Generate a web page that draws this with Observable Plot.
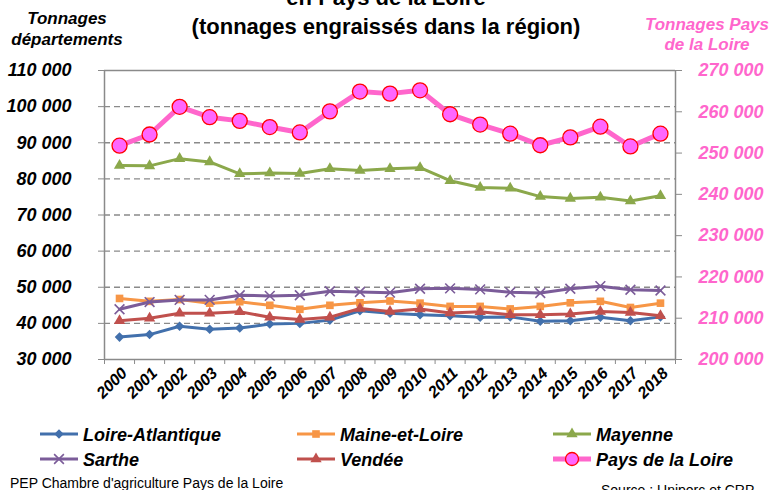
<!DOCTYPE html>
<html>
<head>
<meta charset="utf-8">
<script src="https://cdn.jsdelivr.net/npm/d3@7"></script>
<script src="https://cdn.jsdelivr.net/npm/@observablehq/plot@0.6"></script>
<style>
  html, body { margin: 0; padding: 0; background: #fff; }
  #wrap { position: relative; width: 770px; height: 490px; overflow: hidden; font-family: "Liberation Sans", Arial, sans-serif; }
  #chart { position: absolute; left: 0; top: 0; }
  #overlay { position: absolute; left: 0; top: 0; pointer-events: none; }
</style>
</head>
<body>
<div id="wrap">
  <div id="chart"></div>
  <svg id="overlay" width="770" height="490"></svg>
</div>
<script>
// ---- data ----
const years = [2000, 2001, 2002, 2003, 2004, 2005, 2006, 2007, 2008, 2009, 2010, 2011, 2012, 2013, 2014, 2015, 2016, 2017, 2018];
const loireAtlantique = [36200, 36900, 39200, 38400, 38700, 39800, 40000, 40900, 43500, 42800, 42400, 42100, 41700, 41800, 40600, 40700, 41700, 40700, 41800];
const maineEtLoire = [46900, 46100, 46600, 45600, 46000, 45000, 43900, 45000, 45700, 46200, 45600, 44700, 44700, 44000, 44700, 45700, 46100, 44400, 45600];
const mayenne = [83700, 83600, 85600, 84700, 81400, 81600, 81500, 82800, 82300, 82800, 83100, 79500, 77600, 77400, 75100, 74600, 74900, 73900, 75300];
const sarthe = [43900, 45900, 46500, 46500, 47800, 47600, 47800, 48900, 48700, 48500, 49600, 49700, 49400, 48600, 48400, 49600, 50300, 49300, 49100];
const vendee = [40700, 41400, 42800, 42800, 43200, 41700, 41100, 41700, 44100, 43300, 44000, 42900, 43200, 42400, 42400, 42600, 43300, 43000, 42100];
const paysDeLaLoire = [251800, 254500, 261200, 258700, 257800, 256300, 255000, 260100, 264900, 264400, 265200, 259400, 256900, 254700, 251900, 253800, 256400, 251600, 254700];

const leftTicks = [30000, 40000, 50000, 60000, 70000, 80000, 90000, 100000, 110000];
const rightTicks = [200000, 210000, 220000, 230000, 240000, 250000, 260000, 270000];

const titleLines = ["en Pays de la Loire", "(tonnages engraissés dans la région)"];
const leftTitle = ["Tonnages", "départements"];
const rightTitle = ["Tonnages Pays", "de la Loire"];
const footerLeft = "PEP Chambre d'agriculture Pays de la Loire";
const footerRight = "Source :  Uniporc et CRP";

const series = [
  {name: "Loire-Atlantique", values: loireAtlantique, color: "#4270AC", symbol: "diamond2", r: 4.3, width: 3},
  {name: "Maine-et-Loire", values: maineEtLoire, color: "#F79646", symbol: "square", r: 4.3, width: 3},
  {name: "Mayenne", values: mayenne, color: "#8BA84B", symbol: "triangle", r: 4.2, width: 3},
  {name: "Sarthe", values: sarthe, color: "#7B5C99", symbol: "times", r: 4.5, width: 3},
  {name: "Vendée", values: vendee, color: "#C0504D", symbol: "triangle", r: 4.2, width: 3}
];
const pink = "#FF66CC";

// ---- dual-axis mapping (right axis 200 000–270 000 onto left 30 000–110 000) ----
const L0 = 30000, L1 = 110000, R0 = 200000, R1 = 270000;
const toLeft = v => L0 + (v - R0) * (L1 - L0) / (R1 - R0);
const fromLeft = y => R0 + (y - L0) * (R1 - R0) / (L1 - L0);
const fmt = v => d3.format(",")(Math.round(v / 1000) * 1000).replace(/,/g, " ");

const boundaries = [years[0] - 0.5, ...years.map(y => y + 0.5)];
const gridTicks = leftTicks.filter(t => t > L0 && t < L1);

const marks = [
  Plot.gridY(gridTicks, {stroke: "#8a8a8a", strokeOpacity: 1, strokeWidth: 1.3, strokeDasharray: "6,4"}),
  Plot.ruleY([L1], {stroke: "#8a8a8a", strokeWidth: 1.3}),
  Plot.ruleY([L0], {stroke: "#8a8a8a", strokeWidth: 1.5}),
  Plot.ruleX([boundaries[0]], {stroke: "#8a8a8a", strokeWidth: 1.5}),
  Plot.ruleX([boundaries[boundaries.length - 1]], {stroke: "#8a8a8a", strokeWidth: 1.5}),
  Plot.axisY(leftTicks, {anchor: "left", tickSize: 6, tickPadding: 27, stroke: "#8a8a8a", fill: "#000",
    tickFormat: fmt, fontSize: 18, fontWeight: "bold", fontStyle: "italic", label: null}),
  Plot.axisY(rightTicks.map(toLeft), {anchor: "right", tickSize: 6, tickPadding: 17, stroke: "#8a8a8a", fill: pink,
    tickFormat: d => fmt(fromLeft(d)), fontSize: 18, fontWeight: "bold", fontStyle: "italic", label: null}),
  Plot.axisX(boundaries, {tickSize: 5, stroke: "#8a8a8a", tickFormat: () => "", label: null}),
  Plot.axisX(years, {tickSize: 0, tickPadding: 11, tickRotate: -45, dx: 5, tickFormat: d => String(d),
    fontSize: 16, fontWeight: "bold", fontStyle: "italic", fill: "#000", label: null})
];

for (const s of series) {
  const rows = years.map((yr, i) => ({year: yr, value: s.values[i]}));
  marks.push(Plot.line(rows, {x: "year", y: "value", stroke: s.color, strokeWidth: s.width}));
  if (s.symbol === "times") {
    marks.push(Plot.dot(rows, {x: "year", y: "value", symbol: "times", r: s.r, stroke: s.color, strokeWidth: 1.6}));
  } else {
    marks.push(Plot.dot(rows, {x: "year", y: "value", symbol: s.symbol, r: s.r, fill: s.color, stroke: "none"}));
  }
}
const pinkRows = years.map((yr, i) => ({year: yr, value: toLeft(paysDeLaLoire[i])}));
marks.push(Plot.line(pinkRows, {x: "year", y: "value", stroke: pink, strokeWidth: 5}));
marks.push(Plot.dot(pinkRows, {x: "year", y: "value", r: 7.5, fill: "#FF66FF", stroke: "#FF0000", strokeWidth: 1.3}));

const chart = Plot.plot({
  width: 770,
  height: 410,
  marginLeft: 104,
  marginRight: 95,
  marginTop: 70,
  marginBottom: 51,
  x: {type: "linear", domain: [boundaries[0], boundaries[boundaries.length - 1]]},
  y: {type: "linear", domain: [L0, L1]},
  style: {fontFamily: "Liberation Sans, Arial, sans-serif", background: "transparent", overflow: "visible", color: "#000"},
  marks
});
document.getElementById("chart").appendChild(chart);

// ---- titles, legend, footer ----
const ov = d3.select("#overlay");
const ff = "Liberation Sans, Arial, sans-serif";

ov.append("text").attr("x", 386).attr("y", 5).attr("text-anchor", "middle")
  .attr("font-family", ff).attr("font-size", 22).attr("font-weight", "bold").text(titleLines[0]);
ov.append("text").attr("x", 386).attr("y", 34).attr("text-anchor", "middle")
  .attr("font-family", ff).attr("font-size", 22).attr("font-weight", "bold").text(titleLines[1]);

leftTitle.forEach((t, i) => ov.append("text").attr("x", 67).attr("y", 24 + i * 21).attr("text-anchor", "middle")
  .attr("font-family", ff).attr("font-size", 17).attr("font-weight", "bold").attr("font-style", "italic").text(t));
rightTitle.forEach((t, i) => ov.append("text").attr("x", 707).attr("y", 30 + i * 20).attr("text-anchor", "middle")
  .attr("font-family", ff).attr("font-size", 17).attr("font-weight", "bold").attr("font-style", "italic")
  .attr("fill", pink).text(t));

const legendItems = [
  {...series[0], col: 0, row: 0},
  {...series[1], col: 1, row: 0},
  {...series[2], col: 2, row: 0},
  {...series[3], col: 0, row: 1},
  {...series[4], col: 1, row: 1},
  {name: "Pays de la Loire", color: pink, symbol: "circle", col: 2, row: 1}
];
const colX = [40, 297, 553];
const rowY = [434, 459];
const symMap = {diamond2: d3.symbolDiamond2, square: d3.symbolSquare, triangle: d3.symbolTriangle, times: d3.symbolTimes, circle: d3.symbolCircle};
for (const it of legendItems) {
  const x0 = colX[it.col], y0 = rowY[it.row];
  const g = ov.append("g");
  g.append("line").attr("x1", x0).attr("x2", x0 + 38).attr("y1", y0).attr("y2", y0)
    .attr("stroke", it.color).attr("stroke-width", it.symbol === "circle" ? 5 : 3);
  const cx = x0 + 19;
  if (it.symbol === "circle") {
    g.append("circle").attr("cx", cx).attr("cy", y0).attr("r", 6.5).attr("fill", "#FF66FF").attr("stroke", "#FF0000").attr("stroke-width", 1.3);
  } else if (it.symbol === "times") {
    g.append("path").attr("transform", `translate(${cx},${y0})`).attr("d", d3.symbol(symMap.times, Math.PI * 4.5 * 4.5)())
      .attr("fill", "none").attr("stroke", it.color).attr("stroke-width", 1.6);
  } else {
    g.append("path").attr("transform", `translate(${cx},${y0})`).attr("d", d3.symbol(symMap[it.symbol], Math.PI * it.r * it.r)())
      .attr("fill", it.color);
  }
  g.append("text").attr("x", x0 + 43).attr("y", y0 + 6.5).attr("font-family", ff).attr("font-size", 18)
    .attr("font-weight", "bold").attr("font-style", "italic").attr("fill", "#000").text(it.name);
}

ov.append("text").attr("x", 10).attr("y", 488).attr("font-family", ff).attr("font-size", 14).text(footerLeft);
ov.append("text").attr("x", 601).attr("y", 495).attr("font-family", ff).attr("font-size", 14).text(footerRight);
</script>
</body>
</html>
